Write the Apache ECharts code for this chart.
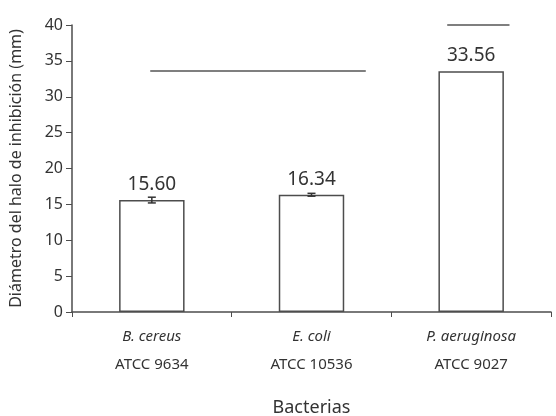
<!DOCTYPE html>
<html>
<head>
<meta charset="utf-8">
<script src="https://cdn.jsdelivr.net/npm/echarts@6/dist/echarts.min.js"></script>
<style>
html, body { margin: 0; padding: 0; background: #fff; }
#main { width: 556px; height: 416px; }
</style>
</head>
<body>
<div id="main"></div>
<script>
var species = ['B. cereus', 'E. coli', 'P. aeruginosa'];
var strains = ['ATCC 9634', 'ATCC 10536', 'ATCC 9027'];
var halo = [15.60, 16.34, 33.56];
var haloErr = [0.4, 0.2, 0];
var yTicks = [0, 5, 10, 15, 20, 25, 30, 35, 40];
// significance lines: [xStart, xEnd, y] on a 0..3 category-position scale
var sigLines = [[0.49, 1.84, 33.6], [2.35, 2.74, 40]];

var dom = document.getElementById('main');
var myChart = echarts.init(dom);
var font = 'Noto Sans';
var grey = '#4d4d4d';

var option = {
    animation: false,
    textStyle: { fontFamily: font },
    grid: { left: 72, right: 5, top: 25, bottom: 104, containLabel: false, outerBoundsMode: 'none' },
    xAxis: [
        {
            type: 'category',
            data: species,
            name: 'Bacterias',
            nameLocation: 'middle',
            nameGap: 87,
            nameTextStyle: { fontSize: 18, color: '#333', fontFamily: font },
            axisLine: { lineStyle: { color: grey, width: 1.5 } },
            axisTick: { show: true, length: 5, lineStyle: { color: grey } },
            axisLabel: {
                margin: 11,
                interval: 0,
                lineHeight: 28,
                formatter: function (v, i) {
                    return '{sp|' + v + '}\n{st|' + strains[i] + '}';
                },
                rich: {
                    sp: { fontStyle: 'italic', fontSize: 15, color: '#333', fontFamily: font, lineHeight: 28 },
                    st: { fontSize: 15, color: '#333', fontFamily: font, lineHeight: 28 }
                }
            }
        },
        {
            type: 'value',
            min: 0,
            max: 3,
            show: false
        }
    ],
    yAxis: {
        type: 'value',
        min: yTicks[0],
        max: yTicks[yTicks.length - 1],
        interval: 5,
        name: 'Diámetro del halo de inhibición (mm)',
        nameLocation: 'middle',
        nameGap: 48,
        nameTextStyle: { fontSize: 16, color: '#333', fontFamily: font },
        axisLine: { show: true, lineStyle: { color: grey, width: 1.5 } },
        axisTick: { show: true, length: 6, lineStyle: { color: grey } },
        axisLabel: { margin: 9, fontSize: 16, color: '#333', fontFamily: font },
        splitLine: { show: false }
    },
    series: [
        {
            name: 'halo',
            type: 'bar',
            data: halo,
            barWidth: '41%',
            itemStyle: { color: '#fff', borderColor: grey, borderWidth: 1.5 },
            label: {
                show: true,
                position: 'top',
                distance: 6,
                fontSize: 19,
                color: '#333',
                fontFamily: font,
                formatter: function (p) { return p.value.toFixed(2); }
            }
        },
        {
            name: 'error',
            type: 'custom',
            data: halo.map(function (v, i) { return [i, v - haloErr[i], v + haloErr[i]]; }),
            renderItem: function (params, api) {
                if (api.value(2) - api.value(1) <= 0) return null;
                var lo = api.coord([api.value(0), api.value(1)]);
                var hi = api.coord([api.value(0), api.value(2)]);
                var w = 4;
                return {
                    type: 'group',
                    children: [
                        { type: 'line', shape: { x1: lo[0], y1: lo[1], x2: hi[0], y2: hi[1] }, style: { stroke: '#333', lineWidth: 1.5 } },
                        { type: 'line', shape: { x1: lo[0] - w, y1: lo[1], x2: lo[0] + w, y2: lo[1] }, style: { stroke: '#333', lineWidth: 1.5 } },
                        { type: 'line', shape: { x1: hi[0] - w, y1: hi[1], x2: hi[0] + w, y2: hi[1] }, style: { stroke: '#333', lineWidth: 1.5 } }
                    ]
                };
            },
            z: 5
        },
        {
            name: 'sig',
            type: 'custom',
            xAxisIndex: 1,
            data: sigLines,
            renderItem: function (params, api) {
                var a = api.coord([api.value(0), api.value(2)]);
                var b = api.coord([api.value(1), api.value(2)]);
                return {
                    type: 'line',
                    shape: { x1: a[0], y1: a[1], x2: b[0], y2: b[1] },
                    style: { stroke: '#555', lineWidth: 1.5 }
                };
            },
            clip: false,
            z: 5
        }
    ]
};

if (option && typeof option === 'object') {
    myChart.setOption(option, true);
}
</script>
</body>
</html>
